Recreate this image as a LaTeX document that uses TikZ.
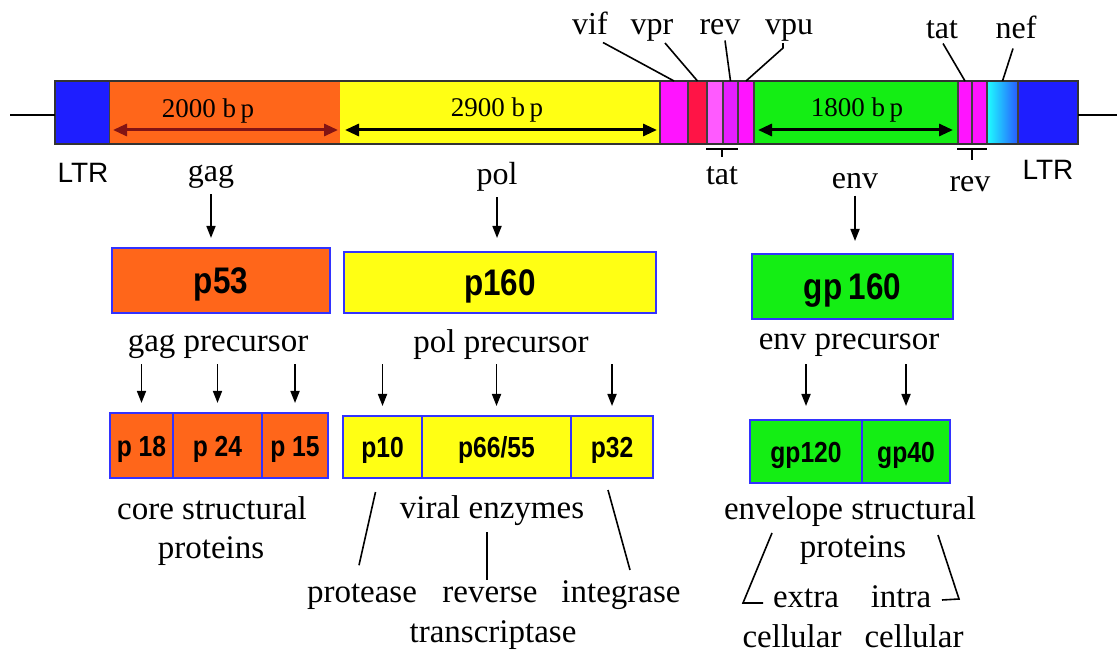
\documentclass[tikz,border=0pt]{standalone}
\usepackage{fontspec}
\setmainfont{Liberation Serif}
\newfontfamily\ltrfont{Liberation Sans}
\newfontfamily\protfont{Liberation Sans}[FakeStretch=0.85]
\usetikzlibrary{arrows.meta,calc}
\definecolor{ltrblue}{RGB}{30,30,255}
\definecolor{gagor}{RGB}{255,102,26}
\definecolor{polyel}{RGB}{255,255,20}
\definecolor{mag}{RGB}{255,20,255}
\definecolor{vprred}{RGB}{255,20,70}
\definecolor{lmag}{RGB}{255,90,255}
\definecolor{rmag}{RGB}{230,30,255}
\definecolor{envgr}{RGB}{20,238,20}
\definecolor{cy}{RGB}{30,255,255}
\definecolor{nefblue}{RGB}{40,90,255}
\definecolor{boxblue}{RGB}{50,50,255}
\definecolor{darkred}{RGB}{130,20,20}
\tikzset{
 seg/.style={rectangle,inner sep=0pt,outer sep=0pt,minimum height=63pt,draw=black!75,line width=1.2pt},
 segnd/.style={seg,draw=none},
 glbl/.style={inner sep=0pt,anchor=base,font=\fontsize{32}{36}\selectfont},
 txt/.style={inner sep=0pt,anchor=base,font=\fontsize{33}{39}\selectfont},
 bplbl/.style={inner sep=0pt,anchor=base,font=\fontsize{27}{30}\selectfont},
 ltrlbl/.style={inner sep=0pt,anchor=base,font=\ltrfont\fontsize{28}{32}\selectfont},
 pbig/.style={rectangle,draw=boxblue,line width=2pt,inner sep=0pt,outer sep=0pt,font=\protfont\bfseries\fontsize{37}{40}\selectfont,text height=26pt,text depth=0pt},
 psmall/.style={pbig,font=\protfont\bfseries\fontsize{29}{32}\selectfont,text height=21pt},
 arr/.style={-{Triangle[length=12pt,width=9pt]},line width=1.7pt},
 bparr/.style={{Triangle[length=14pt,width=12pt]}-{Triangle[length=14pt,width=12pt]},line width=3pt},
 lead/.style={line width=1.6pt},
}
\begin{document}
\begin{tikzpicture}[x=1pt,y=-1pt]
\useasboundingbox (0,0) rectangle (1117,652);
% genome bar
\node[seg,fill=ltrblue,minimum width=55pt] (ltrL) at (82.5,112.5) {};
\node[segnd,fill=gagor,minimum width=230pt] (gagseg) at (225,112.5) {};
\node[segnd,fill=polyel,minimum width=320pt] (polseg) at (500,112.5) {};
\node[seg,fill=mag,minimum width=28pt] (vifseg) at (674,112.5) {};
\node[seg,fill=vprred,minimum width=19pt] (vprseg) at (697.5,112.5) {};
\node[seg,fill=lmag,minimum width=16pt] (tatseg) at (715,112.5) {};
\node[seg,fill=rmag,minimum width=15pt] (revseg) at (730.5,112.5) {};
\node[seg,fill=mag,minimum width=16pt] (vpuseg) at (746,112.5) {};
\node[seg,fill=envgr,minimum width=204pt] (envseg) at (856,112.5) {};
\node[seg,fill=mag,minimum width=14pt] (tatsegb) at (965,112.5) {};
\node[seg,fill=mag,minimum width=15pt] (revsegb) at (979.5,112.5) {};
\node[seg,left color=cy,right color=nefblue,minimum width=31pt] (nefseg) at (1002.5,112.5) {};
\node[seg,fill=ltrblue,minimum width=60pt] (ltrR) at (1048,112.5) {};
\draw[line width=2.5pt,draw=black!80] (ltrL.north west) rectangle (ltrR.south east);
\coordinate (lend) at (10,115);
\coordinate (rend) at (1117,115);
\draw[line width=1.3pt] (lend) -- (lend -| ltrL.west);
\draw[line width=1.3pt] (rend -| ltrR.east) -- (rend);
% bp arrows
\coordinate (g1) at (113,130); \coordinate (g2) at (338,130);
\coordinate (p1) at (345,130); \coordinate (p2) at (657,130);
\coordinate (e1) at (758,130); \coordinate (e2) at (953,130);
\draw[bparr,darkred] (g1) -- (g2);
\draw[bparr] (p1) -- (p2);
\draw[bparr] (e1) -- (e2);
\node[bplbl] (bpg) at (208,118) {2000 b\,p};
\node[bplbl] (bpp) at (497,117) {2900 b\,p};
\node[bplbl] (bpe) at (857,117) {1800 b\,p};
% top labels
\node[glbl] (vif) at (590,35) {vif};
\node[glbl] (vpr) at (652,35) {vpr};
\node[glbl] (rev) at (720,35) {rev};
\node[glbl] (vpu) at (789,35) {vpu};
\node[glbl] (tattop) at (942,39) {tat};
\node[glbl] (nef) at (1016,39) {nef};
\draw[lead] ($(vif.south)+(13,7)$) -- (vifseg.north);
\draw[lead] ($(vpr.south)+(13,1)$) -- (vprseg.north);
\draw[lead] ($(rev.south)+(5,5)$) -- (revseg.north);
\draw[lead] ($(vpu.south)+(-6,1)$) -- ++(0,5) -- (vpuseg.north);
\draw[lead] ($(tattop.south)+(1,4)$) -- (tatsegb.north);
\draw[lead] ($(nef.south)+(-3,9)$) -- (nefseg.north);
% bottom labels of bar
\node[ltrlbl] (ltrl) at (83,183) {LTR};
\node[ltrlbl] (ltrr) at (1048,180) {LTR};
\coordinate (tb1) at (706,149); \coordinate (tb2) at (738,149);
\coordinate (tb3) at (722,149); \coordinate (tb4) at (722,157);
\draw[line width=1.3pt] (tb1) -- (tb2) (tb3) -- (tb4);
\node[glbl] (tatlow) at (722,185) {tat};
\coordinate (rb1) at (957,149); \coordinate (rb2) at (987,149);
\coordinate (rb3) at (972,149); \coordinate (rb4) at (972,160);
\draw[line width=1.3pt] (rb1) -- (rb2) (rb3) -- (rb4);
\node[glbl] (revlow) at (970,192) {rev};
\node[glbl] (gag) at (211,182) {gag};
\node[glbl] (pol) at (497,185) {pol};
\node[glbl] (env) at (855,189) {env};
% precursor boxes
\node[pbig,fill=gagor,minimum width=218pt,minimum height=65pt] (p53) at (221,280.5) {p53};
\node[pbig,fill=polyel,minimum width=312pt,minimum height=61pt] (p160) at (500,282.5) {p160};
\node[pbig,fill=envgr,minimum width=201pt,minimum height=65pt] (gp160) at (852.5,286.5) {gp\,160};
\draw[arr,shorten <=5pt] (gag.south) -- (gag.south |- 0,238);
\draw[arr,shorten <=5pt] (pol.south) -- (pol.south |- 0,238);
\draw[arr,shorten <=6pt] (env.south) -- (env.south |- 0,241);
\node[txt] (gagpre) at (218,352) {gag precursor};
\node[txt] (polpre) at (501,353) {pol precursor};
\node[txt] (envpre) at (849,350) {env precursor};
% cleaved proteins
\node[psmall,fill=gagor,minimum width=63pt,minimum height=65pt] (p18) at (141.5,445.5) {p 18};
\node[psmall,fill=gagor,minimum width=89pt,minimum height=65pt] (p24) at (217.5,445.5) {p 24};
\node[psmall,fill=gagor,minimum width=66pt,minimum height=65pt] (p15) at (295,445.5) {p 15};
\node[psmall,fill=polyel,minimum width=79pt,minimum height=62pt] (p10) at (382.5,447) {p10};
\node[psmall,fill=polyel,minimum width=149pt,minimum height=62pt] (p66) at (496.5,447) {p66/55};
\node[psmall,fill=polyel,minimum width=82pt,minimum height=62pt] (p32) at (612,447) {p32};
\node[psmall,fill=envgr,minimum width=112pt,minimum height=63pt] (gp120) at (806,451.5) {gp120};
\node[psmall,fill=envgr,minimum width=88pt,minimum height=63pt] (gp40) at (906,451.5) {gp40};
\foreach \b in {p18,p24,p15}{\draw[arr,shorten <=5pt,shorten >=10pt] (gagpre.south -| \b.north) -- (\b.north);}
\foreach \b in {p10,p66,p32}{\draw[arr,shorten <=4pt,shorten >=10pt] (polpre.south -| \b.north) -- (\b.north);}
\foreach \b in {gp120,gp40}{\draw[arr,shorten <=7pt,shorten >=14pt] (envpre.south -| \b.north) -- (\b.north);}
% descriptions
\node[txt] (core1) at (212,519) {core structural};
\node[txt] (core2) at (211,558) {proteins};
\node[txt] (viral) at (492,518) {viral enzymes};
\node[txt] (protease) at (362,602) {protease};
\node[txt] (reverse) at (490,602) {reverse};
\node[txt] (transc) at (493,642) {transcriptase};
\node[txt] (integrase) at (621,602) {integrase};
\draw[lead] ($(p10.south)+(-7,14)$) -- ($(protease.north)+(-3,-18)$);
\draw[lead] ($(viral.south)+(-5,7)$) -- ($(reverse.north)+(-3,-6)$);
\draw[lead] ($(p32.south)+(-4,12)$) -- ($(integrase.north)+(9,-10)$);
\node[txt] (env1) at (850,519) {envelope structural};
\node[txt] (env2) at (853,557) {proteins};
\node[txt] (extra) at (806,607) {extra};
\node[txt] (cell1) at (792,647) {cellular};
\node[txt] (intra) at (901,607) {intra};
\node[txt] (cell2) at (914,647) {cellular};
\coordinate (xl1) at (772,533); \coordinate (xl2) at (743,603); \coordinate (xl3) at (763,603);
\coordinate (xr1) at (938,535); \coordinate (xr2) at (959,599); \coordinate (xr3) at (942,600);
\draw[lead] (xl1) -- (xl2) -- (xl3);
\draw[lead] (xr1) -- (xr2) -- (xr3);
\end{tikzpicture}
\end{document}
